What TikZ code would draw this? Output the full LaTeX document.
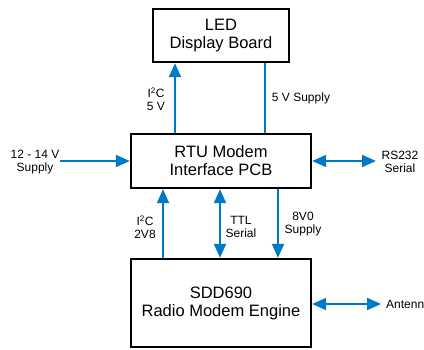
\documentclass[tikz,border=0pt]{standalone}
\usepackage{fontspec}
\setmainfont{Liberation Sans}
\usepackage{tikz}
\usetikzlibrary{arrows.meta}
\definecolor{linkblue}{RGB}{0,120,200}
\tikzset{
  board_node/.style = {draw=black, line width=2.4pt, align=center, inner sep=0pt,
    text centered, font=\fontsize{16.5}{18}\selectfont},% carte, cadre noir
  label_text/.style = {align=center, inner sep=0pt,
    font=\fontsize{12}{13}\selectfont},% texte des liaisons
  link_line/.style = {draw=linkblue, line width=2pt},% liaison simple
  sig_arrow/.style = {link_line, -{Triangle[length=14pt,width=12pt]}},% liaison, une fleche
  bi_arrow/.style = {link_line, {Triangle[length=14pt,width=12pt]}-{Triangle[length=14pt,width=12pt]}}% liaison, deux fleches
}
\begin{document}
\begin{tikzpicture}[x=1pt, y=-1pt]
      \useasboundingbox (0,0) rectangle (424,349);
      % cartes
      \node [board_node, minimum width=136pt, minimum height=53pt] (led) at (221,35.5) {LED\\Display Board};
      \node [board_node, minimum width=180pt, minimum height=54pt] (rtu) at (221,161) {RTU Modem\\Interface PCB};
      \node [board_node, minimum width=180pt, minimum height=88pt] (sdd) at (221,303) {SDD690\\Radio Modem Engine};
      % extremites libres
      \coordinate (supply_in) at (60,161);
      \coordinate (rs232_end) at (376,161);
      \coordinate (antenna_end) at (381,304);
      % liaisons
      \draw [sig_arrow] ([xshift=-46pt]rtu.north) -- ([xshift=-46pt]led.south);
      \draw [link_line] ([xshift=44pt]led.south) -- ([xshift=44pt]rtu.north);
      \draw [sig_arrow] (supply_in) -- (rtu.west);
      \draw [bi_arrow] (rtu.east) -- (rs232_end);
      \draw [sig_arrow] ([xshift=-58pt]sdd.north) -- ([xshift=-58pt]rtu.south);
      \draw [bi_arrow] ([xshift=-1pt]rtu.south) -- ([xshift=-1pt]sdd.north);
      \draw [sig_arrow] ([xshift=57pt]rtu.south) -- ([xshift=57pt]sdd.north);
      \draw [bi_arrow] (sdd.east |- antenna_end) -- (antenna_end);
      % textes
      \node [label_text] (i2c_led) at (156,99) {I\textsuperscript{2}C\\5 V};
      \node [label_text] (supply_led) at (301,98) {5 V Supply};
      \node [label_text] (supply_main) at (35,162) {12 - 14 V\\Supply};
      \node [label_text] (rs232) at (400,162) {RS232\\Serial};
      \node [label_text] (i2c_sdd) at (145,227) {I\textsuperscript{2}C\\2V8};
      \node [label_text] (ttl) at (241,227) {TTL\\Serial};
      \node [label_text] (supply_sdd) at (303,224) {8V0\\Supply};
      \node [label_text, anchor=west] (antenna) at (386,304) {Antenna};
    \end{tikzpicture}
\end{document}
